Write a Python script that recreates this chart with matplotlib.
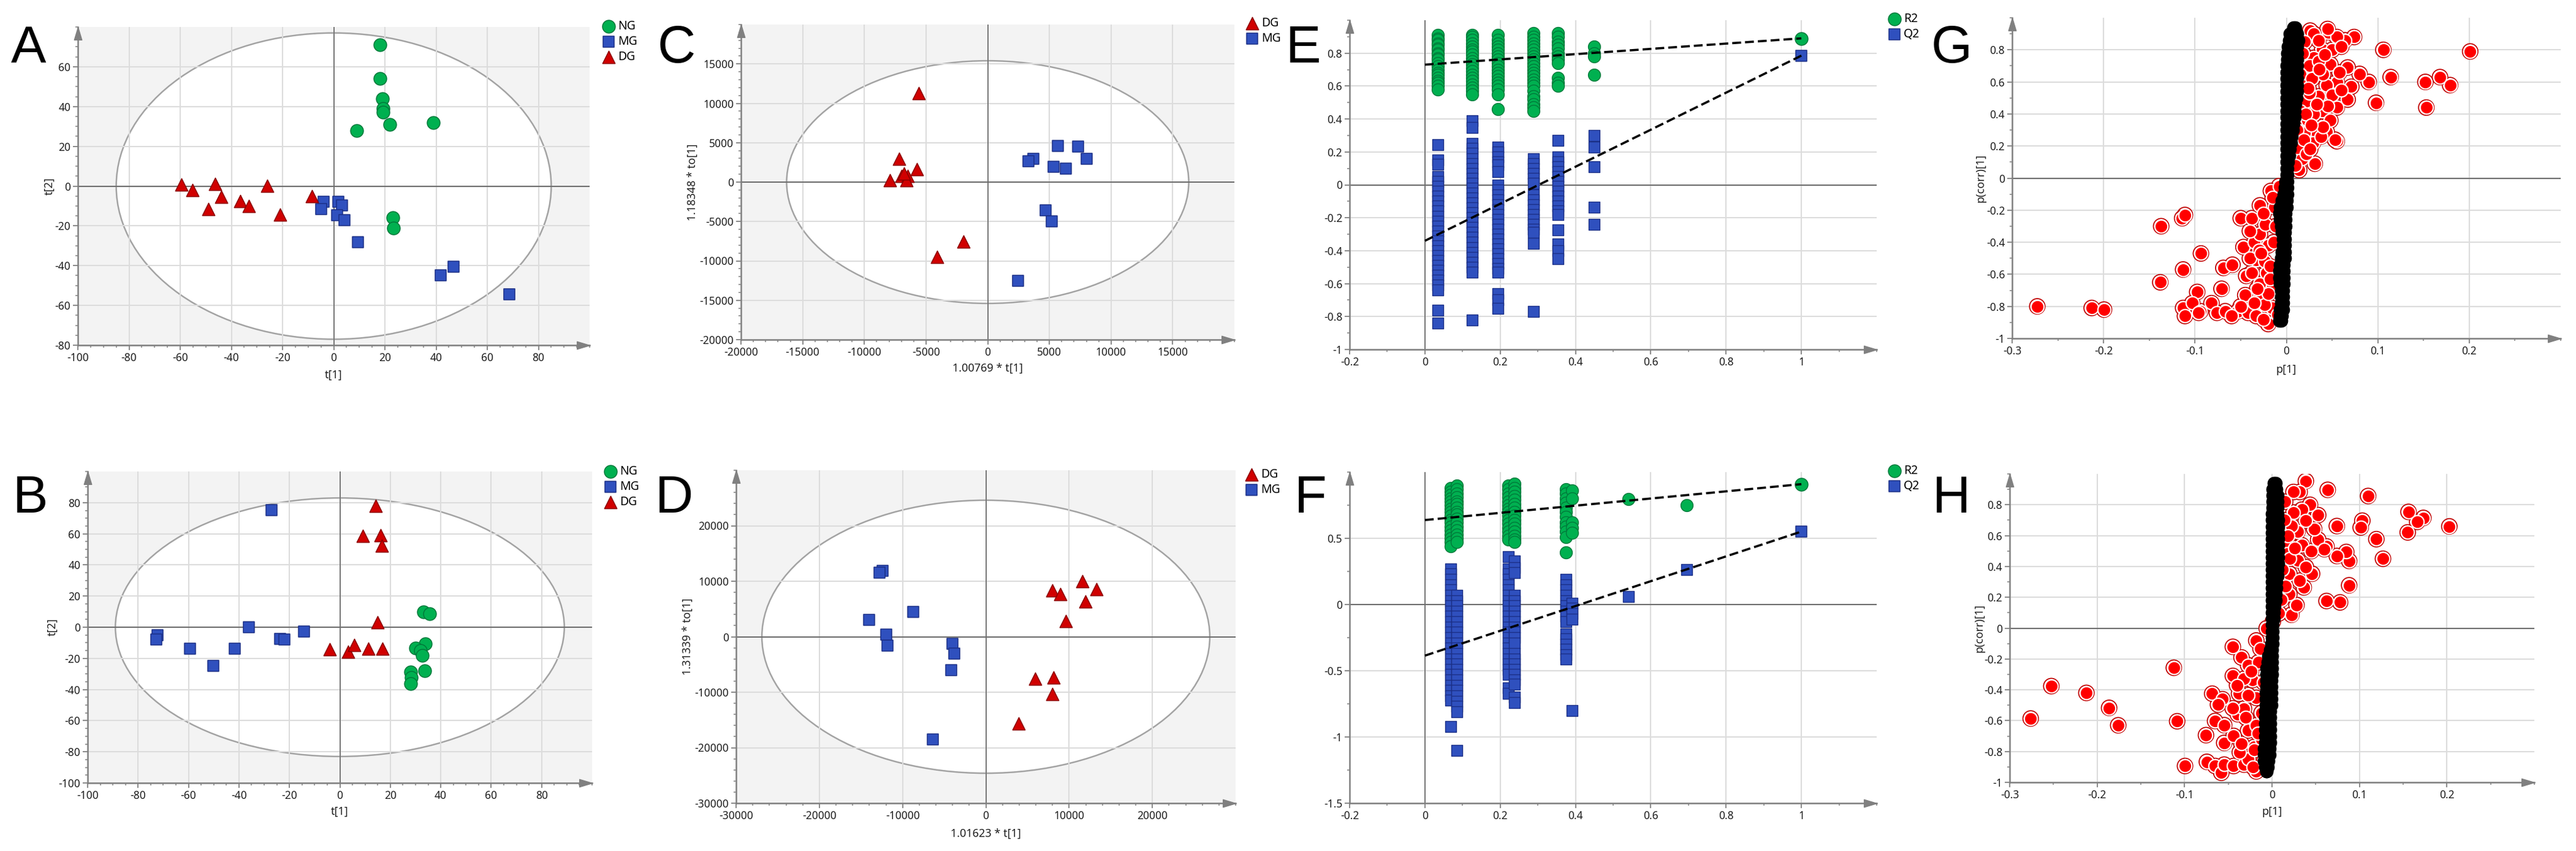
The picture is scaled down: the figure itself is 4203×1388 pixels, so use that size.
import matplotlib
matplotlib.use("Agg")
import matplotlib.pyplot as plt
from matplotlib.patches import Ellipse
from matplotlib.ticker import FixedLocator, MultipleLocator, FuncFormatter

plt.rcParams['font.family'] = ['Noto Sans', 'DejaVu Sans']
plt.rcParams['axes.unicode_minus'] = False

W, H = 4203, 1388

GREEN, GREEN_E = '#00b050', '#00793a'
BLUE, BLUE_E = '#2f50be', '#1b2f86'
RED, RED_E = '#d00000', '#8c0000'

# ---------------- data ----------------
# A: PCA scores
a_ng_x = [18, 18, 19, 19.4, 19.4, 22, 39, 9, 23, 23.4]
a_ng_y = [71, 54, 44, 39, 37, 31, 32, 28, -16, -21]
a_mg_x = [-4, -4.8, 1.7, 3.3, 1.3, 4.2, 9.4, 46.9, 41.9, 68.6]
a_mg_y = [-8, -11.5, -8, -9.7, -14.6, -17, -28.3, -40.6, -45, -54.4]
a_dg_x = [-59.5, -55.3, -46.4, -43.9, -49, -36.5, -33.2, -26, -20.9, -8.5]
a_dg_y = [0.8, -2, 1.2, -5.4, -11.5, -7.4, -10.1, 0.1, -14.2, -5]
a_ellipse = (85, 77)

# B: PCA scores
b_ng_x = [33.2, 35.7, 34, 30, 32, 32.7, 33.7, 28, 28.3, 28]
b_ng_y = [10, 8.8, -10.8, -13.4, -14.8, -18.3, -27.9, -28.8, -32.3, -36.3]
b_mg_x = [-27.2, -72.3, -72.8, -59.4, -50.3, -41.6, -36, -23.7, -21.9, -14.3]
b_mg_y = [75.3, -5.2, -7.8, -13.6, -24.8, -13.6, -0.1, -7.3, -7.8, -2.6]
b_dg_x = [14.1, 9.1, 16.2, 16.7, 14.9, -3.9, 3.4, 5.7, 11.3, 17]
b_dg_y = [78, 58.7, 59, 52.2, 3.2, -14.3, -15.7, -11.5, -13.6, -13.6]
b_ellipse = (89, 83)

# C: OPLS-DA scores
c_dg_x = [-5600, -7160, -5760, -7000, -6490, -6590, -7930, -6800, -1950, -4090]
c_dg_y = [11300, 2950, 1640, 780, 780, 260, 260, 1100, -7580, -9470]
c_mg_x = [5710, 7350, 8020, 3700, 3300, 5340, 6350, 4710, 5180, 2470]
c_mg_y = [4575, 4500, 2950, 2950, 2680, 1920, 1710, -3600, -5000, -12510]
c_ellipse = (16300, 15400)

# D: OPLS-DA scores
d_mg_x = [-12380, -12770, -8710, -14060, -11930, -11780, -4010, -3760, -4160, -6340]
d_mg_y = [11910, 11520, 4510, 3040, 340, -1620, -1320, -3090, -6030, -18480]
d_dg_x = [11630, 8020, 8910, 13270, 11980, 9600, 5940, 8170, 8020, 3960]
d_dg_y = [10050, 8330, 7700, 8580, 6370, 2790, -7600, -7350, -10290, -15690]
d_ellipse = (26900, 24600)

# E: permutation test
e_cols = [0.034, 0.126, 0.194, 0.288, 0.354, 0.449]
e_r2 = [
    [0.91, 0.89, 0.88, 0.86, 0.85, 0.83, 0.82, 0.80, 0.79, 0.77, 0.76, 0.74, 0.72, 0.70, 0.68, 0.67, 0.65, 0.63, 0.62, 0.60, 0.58],
    [0.91, 0.90, 0.88, 0.86, 0.84, 0.82, 0.81, 0.79, 0.77, 0.75, 0.73, 0.71, 0.69, 0.67, 0.65, 0.63, 0.61, 0.59, 0.57, 0.55],
    [0.91, 0.88, 0.86, 0.84, 0.82, 0.80, 0.78, 0.76, 0.74, 0.72, 0.70, 0.68, 0.66, 0.64, 0.62, 0.60, 0.58, 0.55, 0.46],
    [0.92, 0.90, 0.88, 0.86, 0.84, 0.82, 0.80, 0.78, 0.76, 0.74, 0.72, 0.70, 0.68, 0.66, 0.64, 0.62, 0.60, 0.57, 0.54, 0.52, 0.49, 0.47, 0.45],
    [0.92, 0.90, 0.87, 0.85, 0.83, 0.80, 0.78, 0.76, 0.74, 0.65, 0.62, 0.60],
    [0.84, 0.80, 0.78, 0.67],
]
e_q2 = [
    [0.245, 0.15, 0.125, 0.05, 0.02, -0.01, -0.04, -0.07, -0.10, -0.13, -0.16, -0.19, -0.22, -0.25, -0.28, -0.31, -0.34, -0.37, -0.40, -0.43, -0.46, -0.49, -0.52, -0.55, -0.58, -0.61, -0.64, -0.76, -0.84],
    [0.39, 0.35, 0.25, 0.22, 0.19, 0.16, 0.13, 0.10, 0.07, 0.04, 0.01, -0.02, -0.05, -0.08, -0.11, -0.14, -0.17, -0.20, -0.23, -0.26, -0.29, -0.32, -0.35, -0.38, -0.41, -0.44, -0.47, -0.50, -0.53, -0.82],
    [0.23, 0.20, 0.17, 0.14, 0.12, 0.08, 0.0, -0.03, -0.06, -0.09, -0.12, -0.15, -0.18, -0.21, -0.24, -0.27, -0.30, -0.33, -0.36, -0.39, -0.42, -0.45, -0.48, -0.51, -0.53, -0.66, -0.70, -0.75],
    [0.16, 0.13, 0.10, 0.07, 0.04, 0.01, -0.06, -0.09, -0.12, -0.15, -0.18, -0.21, -0.24, -0.27, -0.29, -0.355, -0.77],
    [0.27, 0.17, 0.14, 0.11, 0.08, 0.05, 0.02, -0.01, -0.04, -0.07, -0.10, -0.13, -0.16, -0.18, -0.275, -0.36, -0.40, -0.45],
    [0.30, 0.23, 0.11, -0.135, -0.24],
]
e_orig_x, e_r2_orig, e_q2_orig = 1.0, 0.89, 0.785
e_r2_int, e_q2_int = 0.73, -0.34

# F: permutation test
f_cols = [0.069, 0.085, 0.222, 0.238, 0.374, 0.391, 0.541, 0.696]
f_r2 = [
    [0.88, 0.85, 0.83, 0.80, 0.78, 0.75, 0.72, 0.70, 0.67, 0.64, 0.62, 0.59, 0.56, 0.53, 0.50, 0.47, 0.44],
    [0.90, 0.87, 0.84, 0.81, 0.78, 0.76, 0.73, 0.70, 0.68, 0.65, 0.62, 0.59, 0.56, 0.53, 0.50, 0.47],
    [0.90, 0.87, 0.84, 0.81, 0.78, 0.75, 0.72, 0.70, 0.67, 0.64, 0.61, 0.58, 0.55, 0.52, 0.49],
    [0.91, 0.88, 0.85, 0.82, 0.79, 0.76, 0.73, 0.70, 0.67, 0.64, 0.61, 0.58, 0.55, 0.52, 0.49, 0.47],
    [0.87, 0.84, 0.80, 0.77, 0.73, 0.70, 0.66, 0.62, 0.59, 0.55, 0.51, 0.395],
    [0.86, 0.80, 0.62, 0.58, 0.54],
    [0.796],
    [0.749],
]
f_q2 = [
    [0.27, 0.23, 0.19, 0.15, 0.11, 0.07, 0.03, -0.01, -0.05, -0.09, -0.13, -0.17, -0.21, -0.25, -0.29, -0.33, -0.37, -0.41, -0.45, -0.49, -0.53, -0.57, -0.61, -0.65, -0.69, -0.72, -0.92],
    [0.07, 0.03, -0.01, -0.05, -0.09, -0.13, -0.17, -0.21, -0.25, -0.29, -0.33, -0.37, -0.41, -0.45, -0.49, -0.53, -0.57, -0.61, -0.65, -0.69, -0.73, -0.77, -0.81, -1.10],
    [0.36, 0.27, 0.23, 0.19, 0.15, 0.11, 0.07, 0.03, -0.01, -0.05, -0.09, -0.13, -0.17, -0.21, -0.25, -0.29, -0.33, -0.37, -0.41, -0.45, -0.49, -0.53, -0.63, -0.67],
    [0.33, 0.28, 0.24, 0.07, 0.03, -0.01, -0.05, -0.09, -0.13, -0.17, -0.21, -0.25, -0.29, -0.37, -0.41, -0.45, -0.49, -0.53, -0.57, -0.60, -0.70, -0.74],
    [0.19, 0.15, 0.11, 0.07, 0.03, -0.01, -0.05, -0.09, -0.13, -0.22, -0.26, -0.30, -0.34, -0.38, -0.41],
    [0.01, -0.03, -0.07, -0.11, -0.80],
    [0.062],
    [0.264],
]
f_orig_x, f_r2_orig, f_q2_orig = 1.0, 0.909, 0.551
f_r2_int, f_q2_int = 0.638, -0.386

# G: S-plot
g_red_x = [0.201, 0.106, 0.114, 0.152, 0.168, 0.179, 0.098, 0.153, 0.090, 0.080, 0.067, 0.074, 0.064, 0.071, 0.067,
           0.055, 0.055, 0.031, 0.014, 0.046, 0.026, 0.030, 0.039, 0.030, 0.048, 0.055, 0.044, 0.035, 0.039, 0.030,
           0.044, 0.053, 0.029, 0.023, 0.019, 0.017, 0.012, 0.020, 0.035, 0.055, 0.050, 0.025, 0.040, 0.058, 0.015,
           0.028, 0.050, 0.022, 0.045, 0.015, 0.030, 0.048, 0.020, 0.038, 0.012, 0.022, 0.010, 0.045, 0.060, 0.035,
           0.060, 0.025, 0.040, 0.018, 0.024, 0.033, 0.021, 0.027, 0.036, 0.019, 0.026, 0.042,
           -0.2725, -0.213, -0.1995, -0.137, -0.114, -0.111, -0.0935, -0.113, -0.138, -0.0976, -0.071, -0.069,
           -0.059, -0.050, -0.038, -0.029, -0.017, -0.047, -0.035, -0.033, -0.044, -0.029, -0.045, -0.029, -0.015,
           -0.113, -0.103, -0.094, -0.082, -0.076, -0.067, -0.053, -0.042, -0.033, -0.020, -0.016, -0.111, -0.096,
           -0.029, -0.023, -0.020, -0.024, -0.038, -0.022, -0.013, -0.008, -0.015, -0.024, -0.040, -0.030, -0.018,
           -0.040, -0.012, -0.025, -0.035, -0.050, -0.020, -0.010, -0.060, -0.025, -0.018, -0.028, -0.014, -0.032]
g_red_y = [0.79, 0.80, 0.63, 0.60, 0.63, 0.58, 0.47, 0.44, 0.60, 0.65, 0.69, 0.88, 0.86, 0.57, 0.49,
           0.44, 0.23, 0.09, 0.05, 0.91, 0.92, 0.90, 0.80, 0.75, 0.71, 0.60, 0.58, 0.51, 0.42, 0.30,
           0.29, 0.24, 0.22, 0.36, 0.59, 0.12, 0.19, 0.85, 0.86, 0.88, 0.80, 0.70, 0.65, 0.66, 0.65,
           0.62, 0.52, 0.48, 0.45, 0.42, 0.40, 0.36, 0.28, 0.26, 0.30, 0.15, 0.08, 0.93, 0.82, 0.73,
           0.55, 0.53, 0.32, 0.78, 0.56, 0.46, 0.40, 0.33, 0.68, 0.24, 0.18, 0.77,
           -0.80, -0.81, -0.82, -0.30, -0.25, -0.23, -0.47, -0.57, -0.65, -0.71, -0.69, -0.56,
           -0.54, -0.25, -0.25, -0.17, -0.08, -0.43, -0.40, -0.51, -0.61, -0.66, -0.73, -0.74, -0.67,
           -0.81, -0.78, -0.83, -0.78, -0.84, -0.83, -0.83, -0.84, -0.86, -0.91, -0.81, -0.86, -0.84,
           -0.35, -0.29, -0.42, -0.52, -0.59, -0.59, -0.18, -0.05, -0.12, -0.79, -0.33, -0.45, -0.55,
           -0.50, -0.30, -0.22, -0.78, -0.80, -0.72, -0.85, -0.86, -0.88, -0.63, -0.47, -0.40, -0.69]
g_black_y = [0.94, 0.90, 0.86, 0.82, 0.78, 0.74, 0.70, 0.66, 0.62, 0.58, 0.54, 0.50, 0.46, 0.42, 0.38, 0.34,
             0.30, 0.26, 0.22, 0.18, 0.14, 0.10, 0.06, 0.02, -0.02, -0.06, -0.10, -0.14, -0.18, -0.22, -0.26,
             -0.30, -0.34, -0.38, -0.42, -0.46, -0.50, -0.54, -0.58, -0.62, -0.66, -0.70, -0.74, -0.78, -0.82,
             -0.86, -0.89]
g_black_xl = [0.008, 0.004, 0.003, 0.002, 0.001, 0.001, 0.000, 0.000, 0.000, 0.000, 0.000, 0.000, 0.000, 0.000,
              0.000, 0.000, 0.000, 0.000, 0.000, 0.000, 0.000, 0.000, 0.000, 0.000, -0.001, -0.002, -0.003,
              -0.005, -0.007, -0.008, -0.007, -0.006, -0.005, -0.004, -0.004, -0.005, -0.006, -0.007, -0.008,
              -0.008, -0.007, -0.006, -0.006, -0.006, -0.007, -0.007, -0.008]
g_black_xr = [0.010, 0.012, 0.013, 0.012, 0.012, 0.012, 0.012, 0.012, 0.012, 0.012, 0.012, 0.011, 0.010, 0.009,
              0.009, 0.008, 0.007, 0.006, 0.005, 0.004, 0.003, 0.002, 0.001, 0.001, 0.001, 0.001, 0.001,
              0.000, 0.000, -0.001, -0.001, -0.001, -0.002, -0.002, -0.002, -0.002, -0.002, -0.003, -0.003,
              -0.003, -0.003, -0.004, -0.004, -0.004, -0.004, -0.005, -0.006]

# H: S-plot
h_red_x = [-0.276, -0.2524, -0.2123, -0.1863, -0.1759, -0.1123, -0.1085, -0.0995, -0.0755, -0.0684, -0.0566,
           -0.0618, -0.0651, -0.0547, -0.0547, -0.0448, -0.0349, -0.0448, -0.0377, -0.0745, -0.0651, -0.058,
           -0.0547, -0.0439, -0.0321, -0.018, -0.0274, -0.0368, -0.0203, -0.0392, -0.0321, -0.0274, -0.018,
           -0.018, -0.0226, -0.0274, -0.018, -0.0132, -0.0156, -0.0321, -0.0274, -0.0439, -0.0085, -0.0061,
           0.001, -0.040, -0.030, -0.045, -0.012, -0.010, -0.035, -0.012, -0.022, -0.016, -0.024, -0.020,
           0.0387, 0.0637, 0.1099, 0.1561, 0.1731, 0.166, 0.2028, 0.1552, 0.1033, 0.1014, 0.1193, 0.1269,
           0.0741, 0.0882, 0.0849, 0.0882, 0.0623, 0.0778, 0.0741, 0.0623, 0.0528, 0.0599, 0.0528, 0.0434,
           0.0316, 0.0245, 0.034, 0.0151, 0.0292, 0.034, 0.0458, 0.0363, 0.0292, 0.0387, 0.0198, 0.0222,
           0.0104, 0.008, 0.0198, 0.0481, 0.0387, 0.0245, 0.0222, 0.0175, 0.0316, 0.0151, 0.015, 0.020,
           0.045, 0.012, 0.028, 0.014, 0.018, 0.026]
h_red_y = [-0.586, -0.376, -0.42, -0.517, -0.63, -0.257, -0.604, -0.894, -0.694, -0.425, -0.461,
           -0.496, -0.602, -0.629, -0.744, -0.121, -0.19, -0.31, -0.425, -0.867, -0.894, -0.938,
           -0.885, -0.894, -0.885, -0.929, -0.85, -0.805, -0.77, -0.558, -0.522, -0.664, -0.629,
           -0.452, -0.337, -0.24, -0.08, -0.133, -0.222, -0.328, -0.434, -0.699, -0.858, -0.001,
           0.043, -0.37, -0.58, -0.52, -0.55, -0.35, -0.75, -0.72, -0.90, -0.68, -0.28, -0.79,
           0.954, 0.897, 0.857, 0.754, 0.715, 0.689, 0.66, 0.621, 0.697, 0.653, 0.577, 0.45,
           0.662, 0.436, 0.494, 0.278, 0.176, 0.167, 0.468, 0.53, 0.574, 0.512, 0.733, 0.80,
           0.883, 0.883, 0.768, 0.556, 0.627, 0.538, 0.353, 0.264, 0.441, 0.397, 0.22, 0.087,
           0.185, 0.096, 0.353, 0.644, 0.697, 0.75, 0.662, 0.485, 0.308, 0.273, 0.82, 0.45,
           0.50, 0.38, 0.15, 0.70, 0.60, 0.52]
h_black_y = [0.94, 0.90, 0.86, 0.82, 0.78, 0.74, 0.70, 0.66, 0.62, 0.58, 0.54, 0.50, 0.46, 0.42, 0.38, 0.34,
             0.30, 0.26, 0.22, 0.18, 0.14, 0.10, 0.06, 0.02, -0.02, -0.06, -0.10, -0.14, -0.18, -0.22, -0.26,
             -0.30, -0.34, -0.38, -0.42, -0.46, -0.50, -0.54, -0.58, -0.62, -0.66, -0.70, -0.74, -0.78, -0.82,
             -0.86, -0.90, -0.93]
h_black_xl = [0.002, 0.001, 0.001, 0.001, 0.001, 0.000, 0.000, 0.000, 0.000, 0.000, 0.000, 0.000, 0.000, 0.000,
              0.000, 0.000, 0.000, 0.000, 0.000, 0.000, 0.000, 0.000, 0.000, 0.000, 0.000, 0.000, -0.001,
              -0.002, -0.004, -0.005, -0.006, -0.006, -0.006, -0.006, -0.007, -0.007, -0.007, -0.008, -0.008,
              -0.008, -0.008, -0.008, -0.008, -0.009, -0.009, -0.009, -0.008, -0.006]
h_black_xr = [0.004, 0.005, 0.006, 0.006, 0.006, 0.006, 0.007, 0.007, 0.007, 0.007, 0.007, 0.007, 0.007, 0.007,
              0.006, 0.006, 0.005, 0.005, 0.004, 0.004, 0.003, 0.002, 0.002, 0.001, 0.001, 0.001, 0.001,
              0.000, 0.000, 0.000, 0.000, 0.000, -0.001, -0.001, -0.001, -0.001, -0.001, -0.002, -0.002,
              -0.002, -0.002, -0.002, -0.002, -0.003, -0.003, -0.004, -0.005, -0.006]

# ---------------- figure ----------------
fig = plt.figure(figsize=(W / 100, H / 100), dpi=100)
fig.patch.set_facecolor('white')


def add_ax(l, t, r, b):
    return fig.add_axes([l / W, 1 - b / H, (r - l) / W, (b - t) / H])


def fmt(v, pos):
    v = round(v, 6)
    if v == 0:
        return '0'
    return f'{v:g}'


SPINE = '#808080'
TXT = '#1e1e1e'


def style(ax, xlim, ylim, xt, yt, xminor, yminor, bg='white', zero_v=True, zero_h=True):
    ax.set_xlim(*xlim)
    ax.set_ylim(*ylim)
    ax.set_facecolor(bg)
    for s in ['top', 'right']:
        ax.spines[s].set_visible(False)
    for s in ['left', 'bottom']:
        ax.spines[s].set_color(SPINE)
        ax.spines[s].set_linewidth(1.8)
    ax.xaxis.set_major_locator(FixedLocator(xt))
    ax.yaxis.set_major_locator(FixedLocator(yt))
    ax.xaxis.set_minor_locator(MultipleLocator(xminor))
    ax.yaxis.set_minor_locator(MultipleLocator(yminor))
    ax.xaxis.set_major_formatter(FuncFormatter(fmt))
    ax.yaxis.set_major_formatter(FuncFormatter(fmt))
    ax.tick_params(which='major', length=6, width=1.3, color=SPINE, labelsize=12.5, labelcolor=TXT, pad=2.5)
    ax.tick_params(which='minor', length=3, width=1.1, color=SPINE)
    ax.grid(True, which='major', color='#dcdcdc', lw=1.5)
    ax.set_axisbelow(True)
    if zero_h:
        ax.axhline(0, color='#6e6e6e', lw=1.5, zorder=1.5)
    if zero_v:
        ax.axvline(0, color='#6e6e6e', lw=1.3, zorder=1.5)
    ax.plot([1], [0], marker=[(0, 0), (-1, 0.3), (-1, -0.3), (0, 0)], ms=30, color=SPINE,
            transform=ax.transAxes, clip_on=False, zorder=6)
    ax.plot([0], [1], marker=[(0, 0), (0.3, -1), (-0.3, -1), (0, 0)], ms=30, color=SPINE,
            transform=ax.transAxes, clip_on=False, zorder=6)


def ellipse(ax, ab):
    ax.add_patch(Ellipse((0, 0), 2 * ab[0], 2 * ab[1], facecolor='white', edgecolor='#a3a3a3',
                         lw=1.8, zorder=0.2))


def leg(ax, left_px, top_px):
    ax.legend(loc='upper left', bbox_to_anchor=(left_px / W, 1 - top_px / H), bbox_transform=fig.transFigure,
              frameon=False, borderpad=0, borderaxespad=0, handlelength=1.0, handletextpad=0.3,
              labelspacing=0.25, fontsize=14, scatterpoints=1)


def labels(ax, box, xl, yl, xl_cy, yl_cx):
    l, t, r, b = box
    if xl:
        ax.set_xlabel(xl, fontsize=13, color=TXT)
        ax.xaxis.set_label_coords(0.5, -(xl_cy - 10 - b) / (b - t))
    if yl:
        ax.set_ylabel(yl, fontsize=13, color=TXT)
        ax.yaxis.set_label_coords((yl_cx + 10 - l) / (r - l), 0.5)


S_C, S_S, S_T = 225, 185, 215
kw_ng = dict(marker='o', s=S_C, facecolor=GREEN, edgecolor=GREEN_E, linewidths=1.1, zorder=3)
kw_mg = dict(marker='s', s=S_S, facecolor=BLUE, edgecolor=BLUE_E, linewidths=1.1, zorder=3)
kw_dg = dict(marker='^', s=S_T, facecolor=RED, edgecolor=RED_E, linewidths=1.1, zorder=3)

# ---- A ----
boxA = (127, 44, 962, 563)
ax = add_ax(*boxA)
style(ax, (-100, 100), (-80, 80), list(range(-100, 81, 20)), list(range(-80, 61, 20)), 5, 5, bg='#f3f3f3')
ellipse(ax, a_ellipse)
ax.scatter(a_ng_x, a_ng_y, label='NG', **kw_ng)
ax.scatter(a_mg_x, a_mg_y, label='MG', **kw_mg)
ax.scatter(a_dg_x, a_dg_y, label='DG', **kw_dg)
labels(ax, boxA, 't[1]', 't[2]', 613, 79)
leg(ax, 983, 33)

# ---- B ----
boxB = (143, 769, 966, 1277)
ax = add_ax(*boxB)
style(ax, (-100, 100), (-100, 100), list(range(-100, 81, 20)), list(range(-100, 81, 20)), 5, 5, bg='#f3f3f3')
ellipse(ax, b_ellipse)
ax.scatter(b_ng_x, b_ng_y, label='NG', **kw_ng)
ax.scatter(b_mg_x, b_mg_y, label='MG', **kw_mg)
ax.scatter(b_dg_x, b_dg_y, label='DG', **kw_dg)
labels(ax, boxB, 't[1]', 't[2]', 1325, 84)
leg(ax, 986, 759)

# ---- C ----
boxC = (1209, 40, 2014, 554)
ax = add_ax(*boxC)
style(ax, (-20000, 20000), (-20000, 20000), list(range(-20000, 15001, 5000)), list(range(-20000, 15001, 5000)),
      1000, 1000, bg='#f3f3f3')
ellipse(ax, c_ellipse)
ax.scatter(c_dg_x, c_dg_y, label='DG', **kw_dg)
ax.scatter(c_mg_x, c_mg_y, label='MG', **kw_mg)
labels(ax, boxC, '1.00769 * t[1]', '1.18348 * to[1]', 602, 1129)
leg(ax, 2033, 28)

# ---- D ----
boxD = (1201, 767, 2016, 1310)
ax = add_ax(*boxD)
style(ax, (-30000, 30000), (-30000, 30000), list(range(-30000, 20001, 10000)), list(range(-30000, 20001, 10000)),
      2000, 2000, bg='#f3f3f3')
ellipse(ax, d_ellipse)
ax.scatter(d_dg_x, d_dg_y, label='DG', **kw_dg)
ax.scatter(d_mg_x, d_mg_y, label='MG', **kw_mg)
labels(ax, boxD, '1.01623 * t[1]', '1.31339 * to[1]', 1361, 1121)
leg(ax, 2032, 764)

# ---- E / F ----
x_perm_ticks = [-0.2, 0, 0.2, 0.4, 0.6, 0.8, 1.0]
S_C2, S_S2 = 205, 150


def perm_panel(box, cols, r2, q2, ox, r2o, q2o, r2i, q2i, ylim, yt, yminor, leg_px):
    ax = add_ax(*box)
    style(ax, (-0.2, 1.2), ylim, x_perm_ticks, yt, 0.1, yminor, bg='white')
    for cx, vals in zip(cols, q2):
        ax.scatter([cx] * len(vals), vals, marker='s', s=S_S2, facecolor=BLUE, edgecolor=BLUE_E,
                   linewidths=1.0, zorder=3)
    for cx, vals in zip(cols, r2):
        ax.scatter([cx] * len(vals), vals, marker='o', s=S_C2, facecolor=GREEN, edgecolor=GREEN_E,
                   linewidths=1.0, zorder=3)
    ax.scatter([ox], [r2o], label='R2', **kw_ng)
    ax.scatter([ox], [q2o], label='Q2', **kw_mg)
    ax.plot([0, ox], [r2i, r2o], color='black', lw=2.6, ls=(0, (4.0, 1.8)), zorder=4)
    ax.plot([0, ox], [q2i, q2o], color='black', lw=2.6, ls=(0, (4.0, 1.8)), zorder=4)
    leg(ax, *leg_px)
    return ax


perm_panel((2202, 33, 3062, 570), e_cols, e_r2, e_q2, e_orig_x, e_r2_orig, e_q2_orig, e_r2_int, e_q2_int,
           (-1, 1), [-1, -0.8, -0.6, -0.4, -0.2, 0, 0.2, 0.4, 0.6, 0.8], 0.1, (3081, 21))
perm_panel((2202, 770, 3062, 1310), f_cols, f_r2, f_q2, f_orig_x, f_r2_orig, f_q2_orig, f_r2_int, f_q2_int,
           (-1.5, 1), [-1.5, -1, -0.5, 0, 0.5], 0.25, (3081, 758))

# ---- G / H ----
s_ticks_x = [-0.3, -0.2, -0.1, 0, 0.1, 0.2]
s_ticks_y = [-1, -0.8, -0.6, -0.4, -0.2, 0, 0.2, 0.4, 0.6, 0.8]


def splot(box, rx, ry, by, bxl, bxr, xl_cy, yl_cx):
    ax = add_ax(*box)
    style(ax, (-0.3, 0.3), (-1, 1), s_ticks_x, s_ticks_y, 0.05, 0.1, bg='white', zero_v=False)
    ax.scatter(rx, ry, marker='o', s=330, facecolor='none', edgecolor='#c00000', linewidths=1.3, zorder=3)
    ax.scatter(rx, ry, marker='o', s=235, facecolor='#ff0000', edgecolor='white', linewidths=1.6, zorder=3)
    ax.scatter(bxl + bxr, by + by, marker='o', s=215, facecolor='black', edgecolor='black', linewidths=1.0,
               zorder=4)
    labels(ax, box, 'p[1]', 'p(corr)[1]', xl_cy, yl_cx)
    return ax


splot((3283, 29, 4178, 552), g_red_x, g_red_y, g_black_y, g_black_xl, g_black_xr, 604, 3231)
splot((3279, 773, 4135, 1276), h_red_x, h_red_y, h_black_y, h_black_xl, h_black_xr, 1325, 3229)

# ---- panel letters ----
for letter, (px, py) in zip('ABCDEFGH', [(47, 80), (50, 814), (1104, 80), (1100, 814),
                                        (2127, 80), (2138, 814), (3184, 80), (3184, 814)]):
    fig.text(px / W, 1 - py / H, letter, ha='center', va='center', fontsize=62,
             family=['Liberation Sans', 'DejaVu Sans'], color='black')

fig.savefig('out.png', dpi=100, facecolor='white')
